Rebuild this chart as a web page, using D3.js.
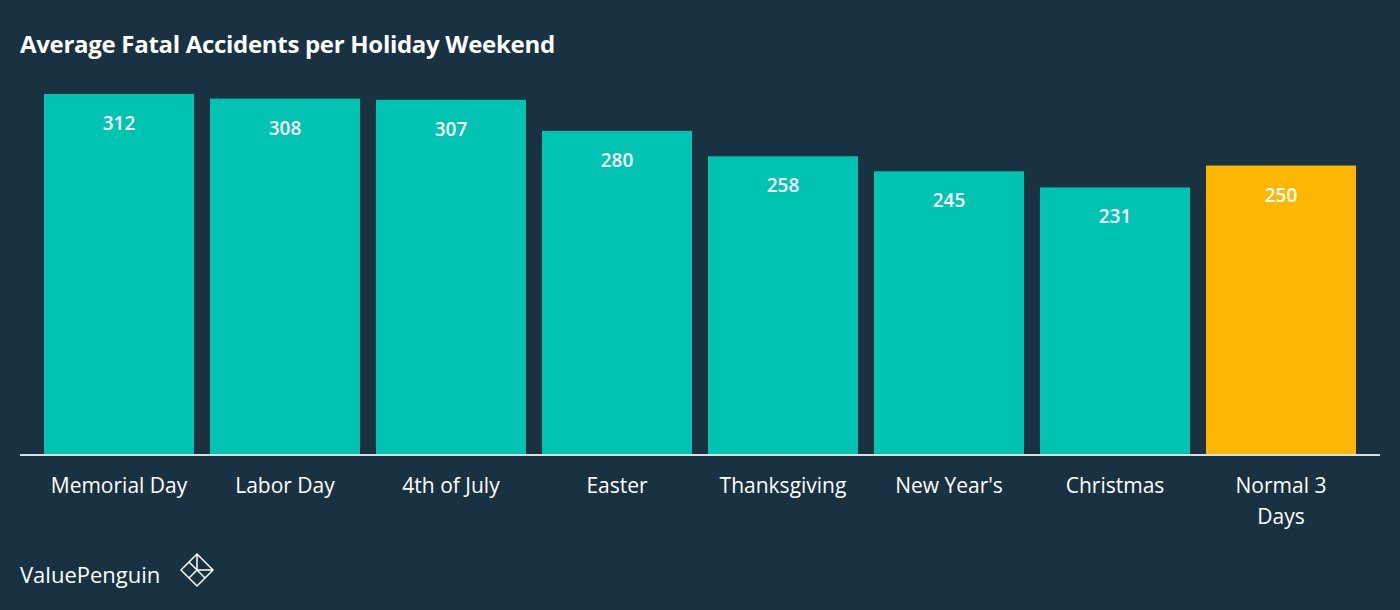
<!DOCTYPE html><html><head><meta charset="utf-8"><script src="https://cdn.jsdelivr.net/npm/d3@7"></script>
<style>body{margin:0;background:#183242}svg{display:block}text{font-family:"Open Sans",sans-serif}</style></head><body><svg id="c" width="1400" height="610"></svg><script>
const categories=["Memorial Day","Labor Day","4th of July","Easter","Thanksgiving","New Year's","Christmas","Normal 3 Days"];
const values=[312,308,307,280,258,245,231,250];
const highlight=[false,false,false,false,false,false,false,true];
const svg=d3.select("#c");
svg.append("rect").attr("width",1400).attr("height",610).attr("fill","#183242");
const x=d3.scaleBand().domain(categories).range([44,1356]).paddingInner(16/166).paddingOuter(0);
const y=d3.scaleLinear().domain([0,312]).range([454,94]);
svg.append("text").attr("x",20).attr("y",53).attr("fill","#fff").attr("font-size",24).attr("font-weight","bold").attr("letter-spacing",-0.3).text("Average Fatal Accidents per Holiday Weekend");
const g=svg.append("g");
g.selectAll("rect.b").data(values).join("rect").attr("x",(d,i)=>x(categories[i])).attr("width",x.bandwidth())
 .attr("y",d=>y(d)).attr("height",d=>y(0)-y(d)).attr("fill",(d,i)=>highlight[i]?"#fdb703":"#00c4b1");
g.selectAll("text.v").data(values).join("text").attr("x",(d,i)=>x(categories[i])+x.bandwidth()/2).attr("y",d=>y(d)+36)
 .attr("text-anchor","middle").attr("fill","#fff").attr("font-size",19).attr("font-weight","600").text(d=>d);
svg.append("line").attr("x1",20).attr("x2",1380).attr("y1",455).attr("y2",455).attr("stroke","#d8dde0").attr("stroke-width",2);
const ax=d3.axisBottom(x).tickSize(0).tickPadding(0);
const axg=svg.append("g").attr("transform","translate(0,455)").call(ax);
axg.select(".domain").remove();
axg.selectAll("text").attr("fill","#fff").attr("font-size",21).attr("dy",0).attr("y",38).each(function(d){
 const t=d3.select(this); if(d==="Normal 3 Days"){t.text("");t.append("tspan").attr("x",0).text("Normal 3");t.append("tspan").attr("x",0).attr("dy",31).text("Days");}
});
svg.append("text").attr("x",20).attr("y",583).attr("fill","#fff").attr("font-size",22).text("ValuePenguin");
const lg=svg.append("g").attr("transform","translate(197,570)").attr("fill","none").attr("stroke","#fff").attr("stroke-width",1.5);
lg.append("path").attr("d","M-16,0 L0,-16 L16,0 L0,16 Z M0,-16 L0,0 L16,0 M-8,-8 L8,8 M0,0 L-8,8");
</script></body></html>
